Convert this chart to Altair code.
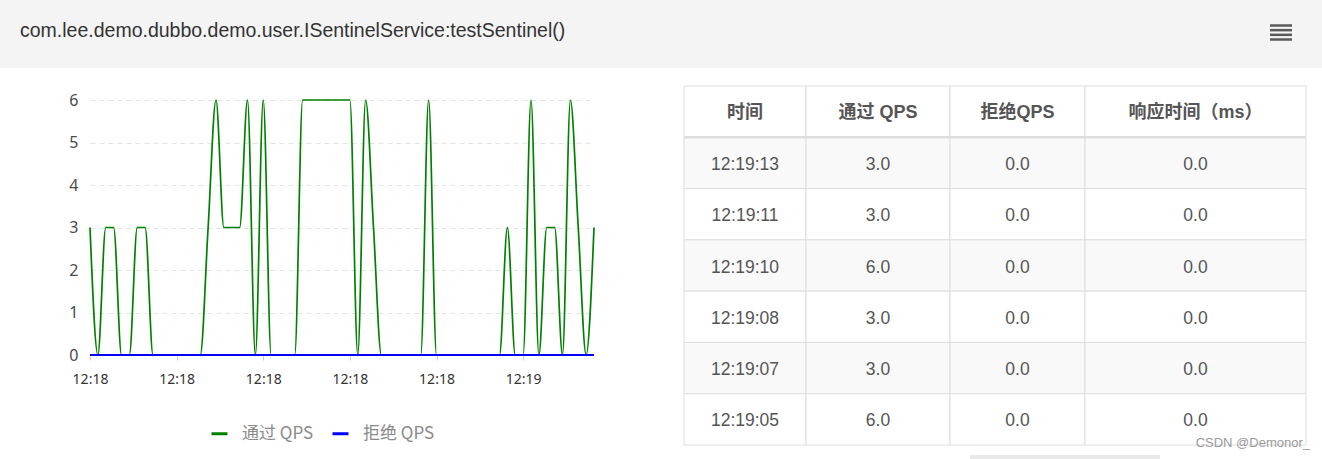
import json
import altair as alt
import pandas as pd

# ---------------- data ----------------
TITLE = "com.lee.demo.dubbo.demo.user.ISentinelService:testSentinel()"
WATERMARK = "CSDN @Demonor_"

SERIES = ["通过 QPS", "拒绝 QPS"]
PASS_QPS = [
    3, 0, 3, 3, 0, 0, 3, 3, 0, 0,
    0, 0, 0, 0, 0, 3, 6, 3, 3, 3,
    6, 0, 6, 0, 0, 0, 0, 6, 6, 6,
    6, 6, 6, 6, 0, 6, 3, 0, 0, 0,
    0, 0, 0, 6, 0, 0, 0, 0, 0, 0,
    0, 0, 0, 3, 0, 0, 6, 0, 3, 3,
    0, 6, 3, 0, 3,
]
BLOCK_QPS = [
    0, 0, 0, 0, 0, 0, 0, 0, 0, 0,
    0, 0, 0, 0, 0, 0, 0, 0, 0, 0,
    0, 0, 0, 0, 0, 0, 0, 0, 0, 0,
    0, 0, 0, 0, 0, 0, 0, 0, 0, 0,
    0, 0, 0, 0, 0, 0, 0, 0, 0, 0,
    0, 0, 0, 0, 0, 0, 0, 0, 0, 0,
    0, 0, 0, 0, 0,
]
POINT_INDEX = list(range(len(PASS_QPS)))
TICK_INDEX = [0, 11, 22, 33, 44, 55]
TICK_LABELS = ["12:18", "12:18", "12:18", "12:18", "12:18", "12:19"]
Y_TICKS = [0, 1, 2, 3, 4, 5, 6]

HEADERS = ["时间", "通过 QPS", "拒绝QPS", "响应时间（ms）"]
TIMES = ["12:19:13", "12:19:11", "12:19:10", "12:19:08", "12:19:07", "12:19:05"]
PASS_COL = [3.0, 3.0, 6.0, 3.0, 3.0, 6.0]
BLOCK_COL = [0.0, 0.0, 0.0, 0.0, 0.0, 0.0]
RT_COL = [0.0, 0.0, 0.0, 0.0, 0.0, 0.0]
MENU_LINES = [0, 1, 2, 3]

# ---------------- layout / style ----------------
COL_WIDTHS = [122, 144, 135, 221]
TABLE_H = 359
PLOT_W = 504
PLOT_H = 269
CJK = "Noto Sans CJK SC"
TABLE_FONT = "Liberation Sans, Noto Sans CJK SC"

# ---------------- header ----------------
header_df = pd.DataFrame({"t": [TITLE]})
title_text = alt.Chart(header_df).mark_text(
    align="left", baseline="middle", fontSize=19.5, color="#333333", font="Liberation Sans"
).encode(text="t:N", x=alt.value(20), y=alt.value(31))

menu = alt.Chart(pd.DataFrame({"k": MENU_LINES})).mark_rule(
    color="#5a5a5a", strokeWidth=2.5
).encode(
    y=alt.Y("k:Q", scale=alt.Scale(domain=[0, 3], range=[25.5, 39.5]), axis=None),
    x=alt.value(1270),
    x2=alt.value(1292),
)

header = alt.layer(title_text, menu).properties(
    width=1322, height=68,
    view=alt.ViewBackground(fill="#f4f4f4", strokeWidth=0),
)

# ---------------- line chart ----------------
line_df = pd.DataFrame({
    "idx": POINT_INDEX + POINT_INDEX,
    "qps": PASS_QPS + BLOCK_QPS,
    "series": [SERIES[0]] * len(PASS_QPS) + [SERIES[1]] * len(BLOCK_QPS),
})

label_expr = "{}[indexof({}, datum.value)]".format(json.dumps(TICK_LABELS), json.dumps(TICK_INDEX))

x_enc = alt.X(
    "idx:Q",
    scale=alt.Scale(domain=[POINT_INDEX[0], POINT_INDEX[-1]], nice=False, zero=False),
    axis=alt.Axis(
        values=TICK_INDEX, labelExpr=label_expr, title=None, grid=False, domain=False,
        tickColor="#cccccc", tickSize=5, labelFontSize=14, labelColor="#333333",
        labelPadding=12, labelFont="Noto Sans", labelFlush=False,
    ),
)
y_enc = alt.Y(
    "qps:Q",
    scale=alt.Scale(domain=[0, 6.33], nice=False, zero=True),
    axis=alt.Axis(
        values=Y_TICKS, title=None, domain=False, ticks=False, grid=True,
        gridDash=[5, 4], gridColor="#e3e3e3", labelPadding=12, labelFontSize=16,
        labelColor="#4a4a4a", labelFont="Noto Sans",
    ),
)
color_enc = alt.Color(
    "series:N",
    scale=alt.Scale(domain=SERIES, range=["#008000", "#0000ff"]),
    legend=alt.Legend(
        orient="none", legendX=210, legendY=424, direction="horizontal", title=None,
        symbolType="stroke", symbolSize=256, symbolStrokeWidth=3,
        labelFontSize=17, labelColor="#8a8a8a", labelFont=CJK, labelOffset=13,
        columnPadding=12, padding=0,
    ),
)

base_line = alt.Chart(line_df).encode(x=x_enc, y=y_enc, color=color_enc)
green = base_line.transform_filter(alt.datum.series == SERIES[0]).mark_line(
    interpolate="monotone", strokeWidth=1.7
)
blue = base_line.transform_filter(alt.datum.series == SERIES[1]).mark_line(
    interpolate="monotone", strokeWidth=2
)
lines = alt.layer(green, blue).properties(width=PLOT_W, height=PLOT_H)


# ---------------- table ----------------
def table_column(header_label, cells, width, extra=None):
    df = pd.DataFrame({
        "row": list(range(len(cells) + 1)),
        "label": [header_label] + cells,
        "c": [header_label] * (len(cells) + 1),
    })
    xs = alt.X("c:N", axis=None, scale=alt.Scale(paddingInner=0, paddingOuter=0))
    ys = alt.Y("row:O", axis=None, scale=alt.Scale(paddingInner=0, paddingOuter=0))
    base = alt.Chart(df).encode(x=xs, y=ys)
    rect = base.mark_rect(stroke="#dddddd", strokeWidth=1).encode(
        fill=alt.condition("datum.row % 2 == 1", alt.value("#f9f9f9"), alt.value("#ffffff"))
    )
    head = base.transform_filter("datum.row == 0").mark_text(
        fontSize=18, fontWeight="bold", color="#555555", font=TABLE_FONT, dy=1
    ).encode(text="label:N")
    body = base.transform_filter("datum.row > 0").mark_text(
        fontSize=17.5, color="#555555", font=TABLE_FONT, dy=2
    ).encode(text="label:N")
    rule = alt.Chart(df).transform_filter("datum.row == 1").mark_rule(
        color="#dddddd", strokeWidth=2.5
    ).encode(
        y=alt.Y("row:O", bandPosition=0, axis=None, scale=alt.Scale(paddingInner=0, paddingOuter=0)),
        x=alt.value(0), x2=alt.value(width),
    )
    layers = [rect, rule, head, body]
    if extra is not None:
        layers += extra
    return alt.layer(*layers).properties(width=width, height=TABLE_H)


shadow = alt.Chart(pd.DataFrame({"s": [0]})).mark_rect(color="#e9e9e9").encode(
    x=alt.value(20), x2=alt.value(210), y=alt.value(369), y2=alt.value(373)
)
wm = alt.Chart(pd.DataFrame({"w": [WATERMARK]})).mark_text(
    align="right", baseline="middle", fontSize=13, color="#999999", font="Liberation Sans"
).encode(text="w:N", x=alt.value(225), y=alt.value(357))

col1 = table_column(HEADERS[0], TIMES, COL_WIDTHS[0])
col2 = table_column(HEADERS[1], [f"{v:.1f}" for v in PASS_COL], COL_WIDTHS[1])
col3 = table_column(HEADERS[2], [f"{v:.1f}" for v in BLOCK_COL], COL_WIDTHS[2], extra=[shadow])
col4 = table_column(HEADERS[3], [f"{v:.1f}" for v in RT_COL], COL_WIDTHS[3], extra=[wm])


def spacer(w):
    return alt.Chart(pd.DataFrame({"s": [0]})).mark_point(opacity=0, size=1).encode(
        x=alt.value(w / 2), y=alt.value(10)
    ).properties(width=w, height=20)


row = alt.hconcat(spacer(90), lines, spacer(90), col1, col2, col3, col4, spacing=0, bounds="flush")

chart = alt.vconcat(header, row, spacing=18, bounds="flush").properties(
    padding=0, background="white"
).configure_view(strokeWidth=0)

chart.save("out.html", embed_options={"renderer": "svg", "actions": False})
